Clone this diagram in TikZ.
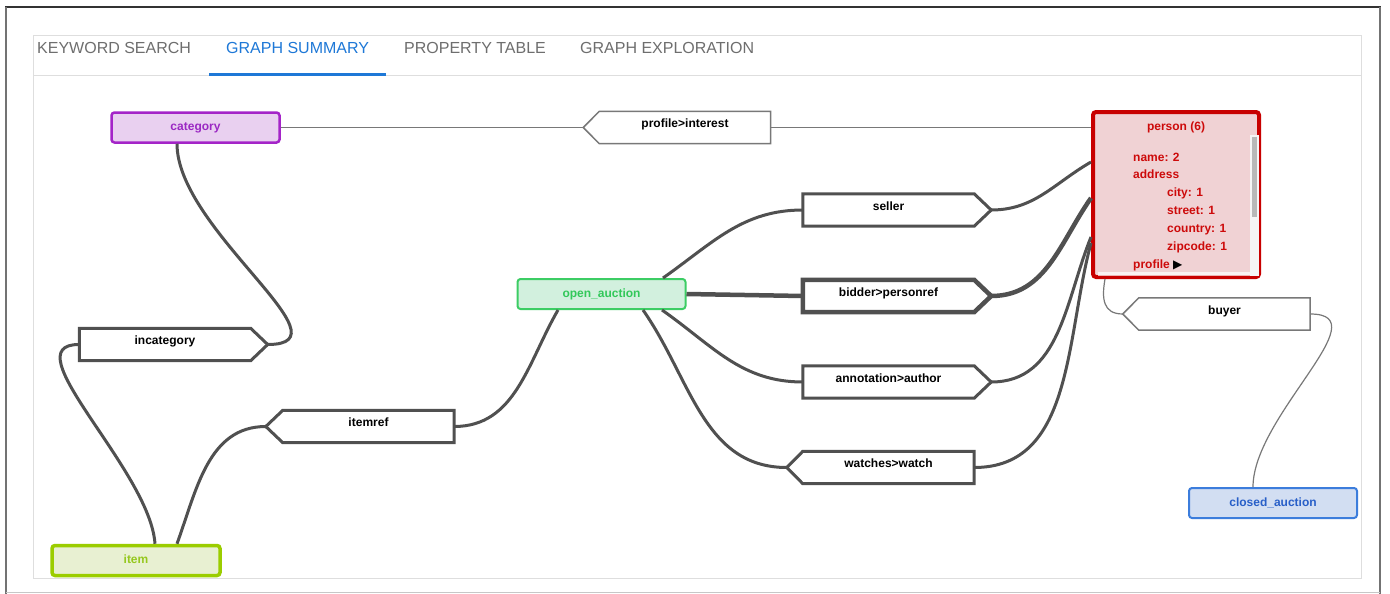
\documentclass[tikz,border=0pt]{standalone}
\usepackage{fontspec}
\setmainfont{Liberation Sans}
\newfontfamily\symfont{DejaVu Sans}
\pgfdeclarelayer{bg}
\pgfdeclarelayer{shapes}
\pgfsetlayers{bg,shapes,main}

\definecolor{catfill}{RGB}{233,208,240}
\definecolor{catdraw}{RGB}{164,36,200}
\definecolor{cattext}{RGB}{155,40,195}
\definecolor{oafill}{RGB}{210,240,222}
\definecolor{oadraw}{RGB}{60,205,100}
\definecolor{oatext}{RGB}{50,200,90}
\definecolor{itemfill}{RGB}{232,240,210}
\definecolor{itemdraw}{RGB}{155,205,0}
\definecolor{itemtext}{RGB}{150,200,30}
\definecolor{closedfill}{RGB}{210,222,242}
\definecolor{closeddraw}{RGB}{60,125,220}
\definecolor{closedtext}{RGB}{40,95,200}
\definecolor{personfill}{RGB}{240,210,212}
\definecolor{persondraw}{RGB}{200,0,0}
\definecolor{persontext}{RGB}{205,10,10}
\definecolor{edgegray}{RGB}{80,80,80}
\definecolor{thingray}{RGB}{120,120,120}
\definecolor{tabgray}{RGB}{110,110,110}
\definecolor{tabblue}{RGB}{30,120,215}
\definecolor{panelgray}{RGB}{222,222,222}

\newcommand{\pentright}[3]{%
  \coordinate (#1tip) at ([xshift=#2]#1.east);
  \begin{pgfonlayer}{shapes}
    \draw[#3] (#1.north west) -- (#1.north east) -- (#1tip) -- (#1.south east) -- (#1.south west) -- cycle;
  \end{pgfonlayer}}
\newcommand{\pentleft}[3]{%
  \coordinate (#1tip) at ([xshift=-#2]#1.west);
  \begin{pgfonlayer}{shapes}
    \draw[#3] (#1.north west) -- (#1.north east) -- (#1.south east) -- (#1.south west) -- (#1tip) -- cycle;
  \end{pgfonlayer}}

\begin{document}
\begin{tikzpicture}[x=1pt,y=-1pt,
  lbl/.style={font=\fontsize{12}{14}\selectfont\bfseries},
  cls/.style={lbl, rectangle, rounded corners=3pt, minimum width=168pt, minimum height=30pt,
    inner sep=0pt, text height=9pt, text depth=2.5pt, line width=2.5pt},
  catst/.style={cls, draw=catdraw, fill=catfill, text=cattext},
  oast/.style={cls, draw=oadraw, fill=oafill, text=oatext, line width=2pt},
  itemst/.style={cls, draw=itemdraw, fill=itemfill, text=itemtext, line width=3.5pt},
  closedst/.style={cls, draw=closeddraw, fill=closedfill, text=closedtext, line width=2pt},
  personbox/.style={rectangle, rounded corners=3pt, draw=persondraw, fill=personfill,
    line width=4pt, minimum width=166pt, minimum height=165pt, inner sep=0pt},
  ptxt/.style={lbl, text=persontext, inner sep=0pt, text height=9pt, text depth=2.5pt},
  ebox/.style={lbl, rectangle, minimum width=171pt, minimum height=32pt, inner sep=0pt,
    text height=6.5pt, text depth=6pt, text=black},
  eframe/.style={draw=edgegray, line width=3pt, fill=white, line join=miter},
  eframebold/.style={eframe, line width=4.5pt},
  thinframe/.style={draw=thingray, line width=1.5pt, fill=white},
  conn/.style={draw=edgegray, line width=3pt},
  boldconn/.style={conn, line width=4.5pt},
  thinconn/.style={draw=thingray, line width=1.2pt},
  tab/.style={font=\fontsize{16}{19}\selectfont, text=tabgray, inner sep=0pt, anchor=base west}
]
\begin{pgfonlayer}{bg}
  \fill[white] (0,0) rectangle (1390,594);
\end{pgfonlayer}
\useasboundingbox (0,0) rectangle (1390,594);

% frame and panel
\draw[draw=black!80, line width=1.5pt] (5,7) -- (1381,7);
\draw[draw=black!55, line width=2pt] (6,7) -- (6,594);
\draw[draw=black!55, line width=2.5pt] (1380,7) -- (1380,594);
\draw[draw=black!22, line width=1pt] (6,592) -- (1380,592);
\draw[draw=panelgray, line width=1pt] (33,36) rectangle (1361,578);
\draw[draw=panelgray, line width=1pt] (33,76) -- (1361,76);
\draw[draw=tabblue, line width=2.5pt] (209,74.5) -- (386,74.5);

% tabs
\node[tab] (tkw) at (37,53.5) {KEYWORD SEARCH};
\node[tab, text=tabblue] (tgs) at (226,53.5) {GRAPH SUMMARY};
\node[tab] (tpt) at (404,53.5) {PROPERTY TABLE};
\node[tab] (tge) at (580,53.5) {GRAPH EXPLORATION};

% class nodes
\node[catst] (cat) at (195.5,127.5) {category};
\node[oast] (oa) at (601.5,294) {open\_auction};
\node[itemst] (item) at (136,560.5) {item};
\node[closedst] (closed) at (1273,503) {closed\_auction};
\node[personbox] (person) at (1176,194.5) {};

% person contents
\fill[white!96!black] (1250,135) rectangle (1259,276);
\fill[white, opacity=0.7] (1098,272) rectangle (1250,276);
\fill[black!28] (1252,137) rectangle (1257,217);
\node[ptxt] (ptitle) at (1176,127) {person (6)};
\node[ptxt, anchor=west] (pname) at (1133,158) {name: 2};
\node[ptxt, anchor=west] (paddr) at (1133,175) {address};
\node[ptxt, anchor=west] (pcity) at (1167,193.5) {city: 1};
\node[ptxt, anchor=west] (pstreet) at (1167,211) {street: 1};
\node[ptxt, anchor=west] (pcountry) at (1167,229.5) {country: 1};
\node[ptxt, anchor=west] (pzip) at (1167,247) {zipcode: 1};
\node[ptxt, anchor=west] (pprof) at (1133,265.5) {profile {\symfont\color{black}\fontsize{12}{14}\selectfont ▶}};

% edge boxes
\node[ebox] (pi) at (685,127.5) {profile>interest};
\pentleft{pi}{16pt}{thinframe}
\node[ebox] (seller) at (888.5,210) {seller};
\pentright{seller}{17pt}{eframe}
\node[ebox] (bidder) at (888.5,296) {bidder>personref};
\pentright{bidder}{17pt}{eframebold}
\node[ebox] (annot) at (888.5,382) {annotation>author};
\pentright{annot}{17pt}{eframe}
\node[ebox] (watches) at (888.5,467.5) {watches>watch};
\pentleft{watches}{16pt}{eframe}
\node[ebox] (incat) at (165,344.5) {incategory};
\pentright{incat}{17pt}{eframe}
\node[ebox] (itemref) at (368.5,426.5) {itemref};
\pentleft{itemref}{17pt}{eframe}
\node[ebox] (buyer) at (1224.5,314) {buyer};
\pentleft{buyer}{16pt}{thinframe}

% connectors
\draw[thinconn] (cat.east) -- (pitip);
\draw[thinconn] (pi.east) -- ([yshift=67pt]person.west);
\draw[conn] ([xshift=-18.5pt]cat.south) to[out=-90, in=0] (incattip);
\draw[conn] (incat.west) .. controls (10,344) and (150,470) .. ([xshift=19pt]item.north);
\draw[conn] (itemreftip) to[out=180, in=70] ([xshift=41pt]item.north);
\draw[conn] (itemref.east) to[out=0, in=-120] ([xshift=-43.5pt]oa.south);
\draw[conn] ([xshift=61.5pt]oa.north) to[out=35, in=180] (seller.west);
\draw[boldconn] (oa.east) -- (bidder.west);
\draw[conn] ([xshift=60.5pt]oa.south) to[out=-35, in=180] (annot.west);
\draw[conn] ([xshift=41.5pt]oa.south) to[out=-55, in=180] (watchestip);
\draw[conn] (sellertip) to[out=0, in=-150] ([yshift=32.5pt]person.west);
\draw[boldconn] (biddertip) to[out=0, in=-125] ([yshift=-3.5pt]person.west);
\draw[conn] (annottip) to[out=0, in=-112] ([yshift=-42.5pt]person.west);
\draw[conn] (watches.east) to[out=0, in=-105] ([yshift=-48.5pt]person.west);
\draw[thinconn] ([xshift=-71pt]person.south) to[out=-100, in=180, looseness=1.3] (buyertip);
\draw[thinconn] (buyer.east) to[out=0, in=90] ([xshift=-20pt]closed.north);
\end{tikzpicture}
\end{document}
